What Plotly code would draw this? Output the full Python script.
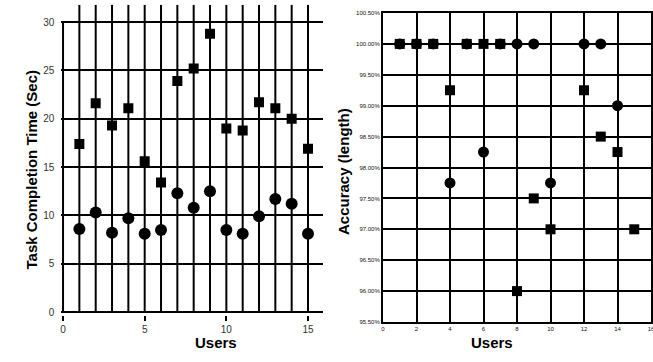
import plotly.graph_objects as go

# ---- data ----
users = list(range(1, 16))
time_square = [17.4, 21.6, 19.3, 21.1, 15.6, 13.4, 23.9, 25.2, 28.8, 19.0, 18.8, 21.7, 21.1, 20.0, 16.9]
time_circle = [8.6, 10.3, 8.2, 9.7, 8.1, 8.5, 12.3, 10.8, 12.5, 8.5, 8.1, 9.9, 11.7, 11.2, 8.1]

acc_square = [100.0, 100.0, 100.0, 99.25, 100.0, 100.0, 100.0, 96.0, 97.5, 97.0, None, 99.25, 98.5, 98.25, 97.0]
acc_circle = [100.0, 100.0, 100.0, 97.75, 100.0, 98.25, 100.0, 100.0, 100.0, 97.75, None, 100.0, 100.0, 99.0, None]

left_yticks = [0, 5, 10, 15, 20, 25, 30]
left_xticks = [0, 5, 10, 15]
right_yticks = [95.5, 96.0, 96.5, 97.0, 97.5, 98.0, 98.5, 99.0, 99.5, 100.0, 100.5]
right_ytext = ["%.2f%%" % v for v in right_yticks]
right_xticks = [0, 2, 4, 6, 8, 10, 12, 14, 16]

W, H = 653, 362


def px(x):
    return x / W


def py(y):
    return (H - y) / H


L_XR = [-0.1, 15.9]
L_YR = [-0.3, 31.8]
R_XR = [0, 16]
R_YR = [95.5, 100.5]

FONT = "Liberation Sans, Arial, sans-serif"

fig = go.Figure()

# left: vertical user lines
vx, vy = [], []
for u in users:
    vx += [u, u, None]
    vy += [0, L_YR[1], None]
fig.add_trace(go.Scatter(x=vx, y=vy, mode="lines", line=dict(color="black", width=2),
                         xaxis="x", yaxis="y", hoverinfo="skip", showlegend=False))
# left y-axis line 0..30
fig.add_trace(go.Scatter(x=[0, 0], y=[0, 30], mode="lines", line=dict(color="black", width=2),
                         xaxis="x", yaxis="y", hoverinfo="skip", showlegend=False))
fig.add_trace(go.Scatter(x=users, y=time_square, mode="markers",
                         marker=dict(symbol="square", size=10, color="black"),
                         xaxis="x", yaxis="y", showlegend=False))
fig.add_trace(go.Scatter(x=users, y=time_circle, mode="markers",
                         marker=dict(symbol="circle", size=12, color="black"),
                         xaxis="x", yaxis="y", showlegend=False))

# right
fig.add_trace(go.Scatter(x=users, y=acc_square, mode="markers",
                         marker=dict(symbol="square", size=10, color="black"),
                         xaxis="x2", yaxis="y2", showlegend=False))
fig.add_trace(go.Scatter(x=users, y=acc_circle, mode="markers",
                         marker=dict(symbol="circle", size=11, color="black"),
                         xaxis="x2", yaxis="y2", showlegend=False))

tickfont_l = dict(family=FONT, size=10, color="#333")
tickfont_r = dict(family=FONT, size=6, color="#111")

fig.update_layout(
    width=W, height=H,
    margin=dict(l=0, r=0, t=0, b=0, autoexpand=False),
    paper_bgcolor="white", plot_bgcolor="white",
    showlegend=False,
    xaxis=dict(domain=[px(61.4), px(322.7)], range=L_XR, tickvals=left_xticks,
               showgrid=False, zeroline=False, showline=False, automargin=False,
               ticks="outside", ticklen=5, tickwidth=2, tickcolor="black",
               tickfont=tickfont_l, anchor="y"),
    yaxis=dict(domain=[py(314.9), py(4.8)], range=L_YR, tickvals=left_yticks,
               showgrid=True, gridcolor="black", gridwidth=2, zeroline=False, showline=False,
               ticks="", ticklabelstandoff=6, automargin=False,
               tickfont=tickfont_l, anchor="x"),
    xaxis2=dict(domain=[px(383), px(651)], range=R_XR, tickvals=right_xticks,
                showgrid=True, gridcolor="black", gridwidth=2, zeroline=False,
                showline=True, linecolor="black", linewidth=2, mirror=True, automargin=False,
                ticks="", tickfont=tickfont_r, anchor="y2", ticklabeloverflow="allow"),
    yaxis2=dict(domain=[py(322), py(13)], range=R_YR, tickvals=right_yticks,
                ticktext=right_ytext,
                showgrid=True, gridcolor="black", gridwidth=2, zeroline=False,
                showline=True, linecolor="black", linewidth=2, mirror=True, automargin=False,
                ticks="", tickfont=tickfont_r, anchor="x2"),
)

title_font = dict(family=FONT, size=15, color="black")
fig.add_annotation(text="<b>Task Completion Time (Sec)</b>", x=px(20), y=py(170),
                   xref="paper", yref="paper", textangle=-90, showarrow=False, font=title_font)
fig.add_annotation(text="<b>Users</b>", x=px(193), y=py(353),
                   xref="paper", yref="paper", showarrow=False, font=title_font)
fig.add_annotation(text="<b>Accuracy (length)</b>", x=px(343), y=py(172),
                   xref="paper", yref="paper", textangle=-90, showarrow=False, font=title_font)
fig.add_annotation(text="<b>Users</b>", x=px(515), y=py(353),
                   xref="paper", yref="paper", showarrow=False, font=title_font)

fig.write_html("out.html",
               config={"displayModeBar": False},
               post_script="document.body.style.margin='0';document.body.style.overflow='hidden';")
